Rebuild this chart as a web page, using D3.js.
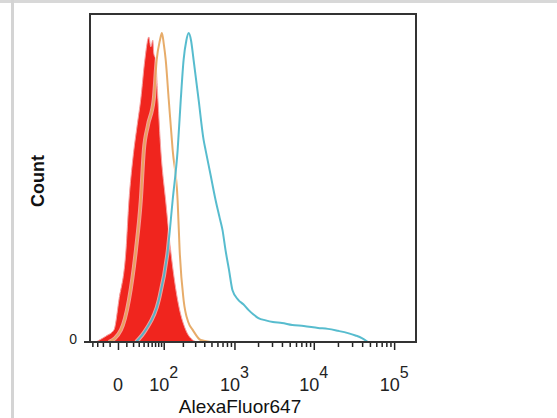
<!DOCTYPE html>
<html>
<head>
<meta charset="utf-8">
<script src="https://cdn.jsdelivr.net/npm/d3@7"></script>
<style>
  body { margin: 0; background: #fff; }
  svg { display: block; font-family: "Liberation Sans", Arial, sans-serif; }
</style>
</head>
<body>
<script>
// histogram data, fluorescence (x) and % of max count (y)
var redX = [-32, -27, -15, -4.5, 1, 9.5, 13.6, 19.7, 27, 34, 42.8, 52.5, 57.7, 63.3, 66, 72, 79, 89, 108, 130, 167, 220, 277, 324];
var redY = [0, 0.5, 1.8, 3.7, 12.8, 28, 43, 56, 66, 74, 86, 93, 90, 92, 88, 86, 74, 58.5, 43, 28, 12.8, 3.7, 0.6, 0];

var orangeX = [-11, 3.3, 13.6, 24.8, 34, 40.6, 50, 66, 75, 86, 93, 100, 108, 121, 140, 167, 179, 205, 240, 277, 357, 487];
var orangeY = [0, 3.7, 12.8, 28, 43, 58.5, 66, 74, 86, 92, 94.2, 91, 86, 74, 58.5, 43, 28, 12.8, 6, 3.7, 0.6, 0];

var cyanX = [25, 45, 82, 117, 140, 167, 186, 205, 225, 243, 262, 285, 335, 392, 417, 487, 567, 640, 700, 766, 850, 943, 1125, 1300, 1508, 1750, 2020, 2500, 3080, 4000, 5380, 7500, 11320, 15000, 20000, 26640, 33000, 39740, 47140];
var cyanY = [0, 3.7, 12.8, 28, 43.3, 58.5, 73.8, 86, 92, 94.2, 92, 86, 73.8, 61.6, 58.5, 50.9, 43.3, 38, 34.1, 28, 22, 15.8, 12.8, 11.5, 9.8, 8.4, 7.3, 6.6, 6.1, 5.8, 5.2, 4.9, 4.3, 4.0, 3.4, 2.7, 2.0, 1.2, 0];

var majorTicks = [0, 100, 1000, 10000, 100000];
var majorExp = ['', '2', '3', '4', '5'];
var minorTicks = [-40, -30, -20, -10, 10, 20, 30, 40, 50, 60, 70, 80, 90,
  200, 300, 400, 500, 600, 700, 800, 900,
  2000, 3000, 4000, 5000, 6000, 7000, 8000, 9000,
  20000, 30000, 40000, 50000, 60000, 70000, 80000, 90000];

var width = 557, height = 418;
var plotL = 90, plotR = 416, plotT = 14, plotB = 342;

var svg = d3.select('body').append('svg').attr('width', width).attr('height', height);

// page frame
svg.append('rect').attr('x', 0).attr('y', 0).attr('width', width).attr('height', 3).attr('fill', '#d8d8d8');
svg.append('rect').attr('x', 11).attr('y', 0).attr('width', 3).attr('height', height).attr('fill', '#d4d4d4');

var x = d3.scaleSymlog().constant(37).domain([-45.4, 187000]).range([plotL, plotR]);
var y = d3.scaleLinear().domain([0, 100]).range([plotB, plotT]);

function pairs(xs, ys) {
  return xs.map(function (d, i) { return [d, ys[i]]; });
}

var area = d3.area()
  .x(function (d) { return x(d[0]); })
  .y0(y(0))
  .y1(function (d) { return y(d[1]); })
  .curve(d3.curveMonotoneX);

var line = d3.line()
  .x(function (d) { return x(d[0]); })
  .y(function (d) { return y(d[1]); })
  .curve(d3.curveMonotoneX);

svg.append('path')
  .datum(pairs(redX, redY))
  .attr('d', area)
  .attr('fill', '#f0251e')
  .attr('stroke', '#f6a0a0')
  .attr('stroke-width', 1);

[[orangeX, orangeY, '#e4a35a'], [cyanX, cyanY, '#45b5c9']].forEach(function (s) {
  var data = pairs(s[0], s[1]);
  svg.append('path').datum(data).attr('d', line)
    .attr('fill', 'none').attr('stroke', '#fff').attr('stroke-opacity', 0.55).attr('stroke-width', 4);
  svg.append('path').datum(data).attr('d', line)
    .attr('fill', 'none').attr('stroke', s[2]).attr('stroke-opacity', 0.9).attr('stroke-width', 2);
});

// plot frame
svg.append('rect')
  .attr('x', plotL).attr('y', plotT)
  .attr('width', plotR - plotL).attr('height', plotB - plotT)
  .attr('fill', 'none').attr('stroke', '#333').attr('stroke-width', 2);

// x ticks
var minorAxis = d3.axisBottom(x).tickValues(minorTicks).tickSize(5).tickSizeOuter(0).tickFormat('');
var majorAxis = d3.axisBottom(x).tickValues(majorTicks).tickSize(8).tickSizeOuter(0).tickFormat('');
[minorAxis, majorAxis].forEach(function (ax) {
  var g = svg.append('g').attr('transform', 'translate(0,' + plotB + ')').call(ax);
  g.select('.domain').remove();
  g.selectAll('line').attr('stroke', '#222').attr('stroke-width', 1.5);
});
svg.append('line').attr('x1', 84).attr('x2', plotR).attr('y1', plotB).attr('y2', plotB)
  .attr('stroke', '#333').attr('stroke-width', 2);

// x tick labels
majorTicks.forEach(function (v, i) {
  var t = svg.append('text')
    .attr('x', x(v)).attr('y', 391)
    .attr('text-anchor', 'middle')
    .attr('font-size', 18).attr('fill', '#222');
  if (v === 0) {
    t.text('0');
  } else {
    t.append('tspan').text('10');
    t.append('tspan').attr('dy', -13).attr('font-size', 16).text(majorExp[i]);
  }
});

// y axis: only zero
svg.append('text').attr('x', 77).attr('y', 344).attr('text-anchor', 'end')
  .attr('font-size', 14).attr('fill', '#222').text('0');

svg.append('text')
  .attr('transform', 'translate(44,181) rotate(-90)')
  .attr('text-anchor', 'middle')
  .attr('font-size', 18).attr('font-weight', 'bold').attr('fill', '#111')
  .text('Count');

svg.append('text')
  .attr('x', 240).attr('y', 413)
  .attr('text-anchor', 'middle')
  .attr('font-size', 19).attr('fill', '#111')
  .text('AlexaFluor647');
</script>
</body>
</html>
